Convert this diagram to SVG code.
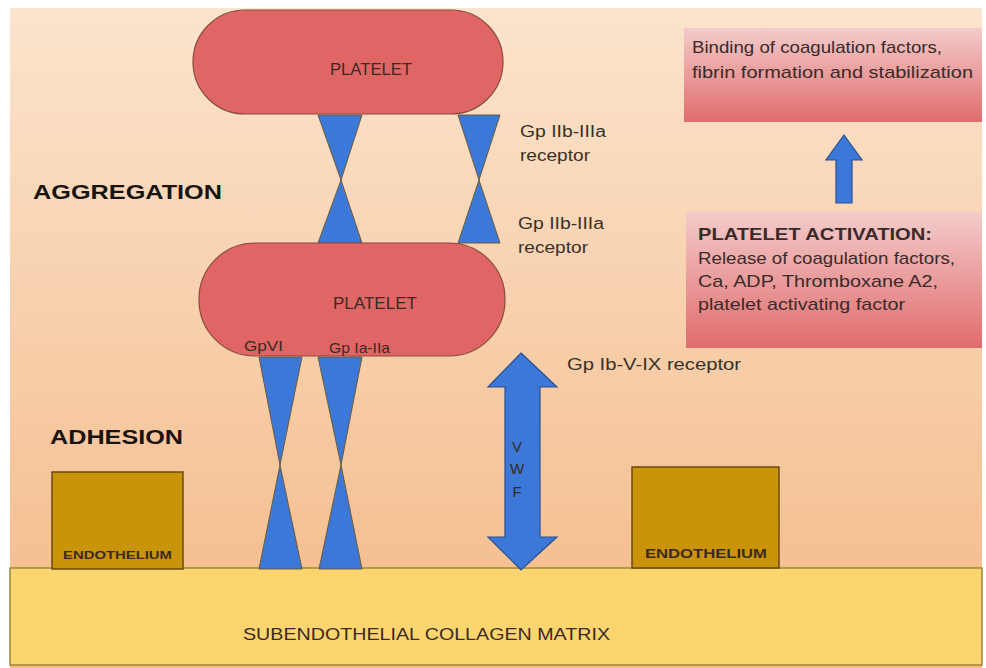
<svg xmlns="http://www.w3.org/2000/svg" width="986" height="668" viewBox="0 0 986 668">
<defs>
<linearGradient id="bg" x1="0" y1="0" x2="0" y2="1">
<stop offset="0" stop-color="#fbe4cd"/>
<stop offset="1" stop-color="#f4b987"/>
</linearGradient>
<linearGradient id="box" x1="0" y1="0" x2="0" y2="1">
<stop offset="0" stop-color="#f3cccb"/>
<stop offset="1" stop-color="#e06c6c"/>
</linearGradient>
<style>
.plt{fill:#e06666;stroke:#8a4a3a;stroke-width:1.2}
.bt{fill:#3c78d8;stroke:#6b5a3a;stroke-width:1}
.arr{fill:#3c78d8;stroke:#2a4f8f;stroke-width:1.2}
.endo{fill:#c99409;stroke:#6b4a12;stroke-width:1.5}
.t{font-family:"Liberation Sans",Arial,sans-serif;fill:#3a2a22}
.h{font-family:"Liberation Sans",Arial,sans-serif;font-weight:bold;fill:#1a1410;font-size:21px}
.lab{font-family:"Liberation Sans",Arial,sans-serif;font-size:16px;fill:#3a3028}
.bx{font-family:"Liberation Sans",Arial,sans-serif;font-size:17px;fill:#3a2a2a}
</style>
</defs>
<rect x="0" y="0" width="986" height="668" fill="#ffffff"/>
<rect x="10" y="8" width="972" height="660" fill="url(#bg)"/>

<g id="collagen">
<rect x="10" y="568" width="972" height="97" fill="#fcd56f" stroke="#a0863a" stroke-width="1.5"/>
<text class="t" x="243" y="640" font-size="17" fill="#4a3a12" textLength="367" lengthAdjust="spacingAndGlyphs">SUBENDOTHELIAL COLLAGEN MATRIX</text>
</g>

<g id="endothelium-left">
<rect class="endo" x="52" y="472" width="131" height="97"/>
<text class="t" x="63" y="559" font-size="11" font-weight="bold" fill="#2a1e10" textLength="109" lengthAdjust="spacingAndGlyphs">ENDOTHELIUM</text>
</g>
<g id="endothelium-right">
<rect class="endo" x="632" y="467" width="147" height="101"/>
<text class="t" x="645" y="558" font-size="13" font-weight="bold" fill="#2a1e10" textLength="122" lengthAdjust="spacingAndGlyphs">ENDOTHELIUM</text>
</g>

<g id="connectors">
<polygon class="bt" points="318,115 362,115 341,180 362,243 318,243 341,180"/>
<polygon class="bt" points="458,115 500,115 479,180 500,243 458,243 479,180"/>
<polygon class="bt" points="259,357 302,357 280,465 302,569 259,569 280,465"/>
<polygon class="bt" points="318,357 362,357 341,465 362,569 319,569 341,465"/>
<polygon class="arr" points="521,353 557,387 540,387 540,537 557,537 521,570 488,537 505,537 505,387 488,387"/>
<polygon class="arr" points="844,135 862,160 852,160 852,203 836,203 836,160 826,160"/>
</g>

<g id="platelet-top">
<rect class="plt" x="193" y="10" width="310" height="104" rx="52" ry="52"/>
<text class="t" x="330" y="75" font-size="16" textLength="82" lengthAdjust="spacingAndGlyphs">PLATELET</text>
</g>
<g id="platelet-bottom">
<rect class="plt" x="199" y="243" width="306" height="113" rx="56" ry="56"/>
<text class="t" x="333" y="309" font-size="16" textLength="84" lengthAdjust="spacingAndGlyphs">PLATELET</text>
<text class="t" x="244" y="351" font-size="15" textLength="39" lengthAdjust="spacingAndGlyphs">GpVI</text>
<text class="t" x="329" y="353" font-size="15" textLength="61" lengthAdjust="spacingAndGlyphs">Gp Ia-IIa</text>
</g>

<g id="vwf-label">
<text class="t" x="517" y="452" font-size="15" text-anchor="middle" fill="#1f3b70">V</text>
<text class="t" x="517" y="474" font-size="15" text-anchor="middle" fill="#1f3b70">W</text>
<text class="t" x="517" y="497" font-size="15" text-anchor="middle" fill="#1f3b70">F</text>
</g>

<g id="labels">
<text class="h" x="33" y="199" textLength="189" lengthAdjust="spacingAndGlyphs">AGGREGATION</text>
<text class="h" x="50" y="444" textLength="133" lengthAdjust="spacingAndGlyphs">ADHESION</text>
<text class="lab" x="520" y="137" textLength="86" lengthAdjust="spacingAndGlyphs">Gp IIb-IIIa</text>
<text class="lab" x="520" y="161" textLength="70" lengthAdjust="spacingAndGlyphs">receptor</text>
<text class="lab" x="518" y="229" textLength="86" lengthAdjust="spacingAndGlyphs">Gp IIb-IIIa</text>
<text class="lab" x="518" y="253" textLength="70" lengthAdjust="spacingAndGlyphs">receptor</text>
<text class="lab" x="567" y="370" textLength="174" lengthAdjust="spacingAndGlyphs">Gp Ib-V-IX receptor</text>
</g>

<g id="box-binding">
<rect x="684" y="28" width="298" height="94" fill="url(#box)"/>
<text class="bx" x="692" y="53" textLength="250" lengthAdjust="spacingAndGlyphs">Binding of coagulation factors,</text>
<text class="bx" x="692" y="78" textLength="281" lengthAdjust="spacingAndGlyphs">fibrin formation and stabilization</text>
</g>
<g id="box-activation">
<rect x="686" y="212" width="296" height="136" fill="url(#box)"/>
<text class="bx" x="698" y="240" font-weight="bold" fill="#1a1010" textLength="234" lengthAdjust="spacingAndGlyphs">PLATELET ACTIVATION:</text>
<text class="bx" x="698" y="264" textLength="257" lengthAdjust="spacingAndGlyphs">Release of coagulation factors,</text>
<text class="bx" x="698" y="287" textLength="240" lengthAdjust="spacingAndGlyphs">Ca, ADP, Thromboxane A2,</text>
<text class="bx" x="698" y="310" textLength="207" lengthAdjust="spacingAndGlyphs">platelet activating factor</text>
</g>
</svg>
